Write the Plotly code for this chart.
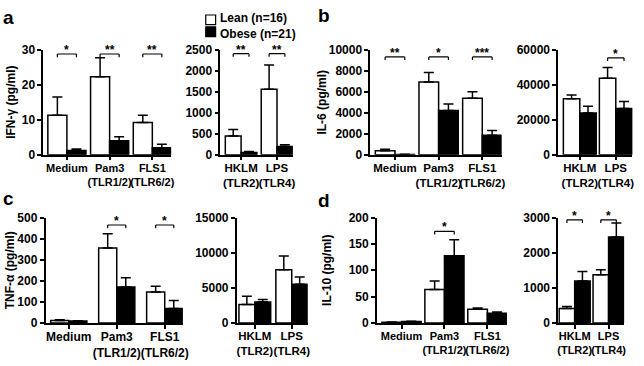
import plotly.graph_objects as go

# ---------------- data ----------------
cats_a = ["Medium", "Pam3<br>(TLR1/2)", "FLS1<br>(TLR6/2)"]
cats_b = ["HKLM<br>(TLR2)", "LPS<br>(TLR4)"]
series_names = ["Lean (n=16)", "Obese (n=21)"]
y_titles = ["IFN-γ (pg/ml)", "IL-6 (pg/ml)", "TNF-α (pg/ml)", "IL-10 (pg/ml)"]
panel_letters = ["a", "b", "c", "d"]

# IFN-gamma
ifng_l_lean = [11.3, 22.3, 9.2]
ifng_l_lean_sem = [5.2, 5.4, 2.1]
ifng_l_obese = [1.2, 4.0, 2.0]
ifng_l_obese_sem = [0.4, 1.1, 1.0]
ifng_r_lean = [443, 1561]
ifng_r_lean_sem = [155, 574]
ifng_r_obese = [50, 194]
ifng_r_obese_sem = [25, 39]
# IL-6
il6_l_lean = [369, 6923, 5385]
il6_l_lean_sem = [154, 923, 615]
il6_l_obese = [20, 4215, 1846]
il6_l_obese_sem = [10, 615, 462]
il6_r_lean = [31950, 43760]
il6_r_lean_sem = [2210, 6090]
il6_r_obese = [23820, 26400]
il6_r_obese_sem = [3880, 4070]
# TNF-alpha
tnf_l_lean = [12, 356, 147]
tnf_l_lean_sem = [3, 68, 27]
tnf_l_obese = [9, 171, 68]
tnf_l_obese_sem = [1, 43, 38]
tnf_r_lean = [2615, 7569]
tnf_r_lean_sem = [1192, 1972]
tnf_r_obese = [2982, 5505]
tnf_r_obese_sem = [367, 1055]
# IL-10
il10_l_lean = [1.2, 63.4, 25.8]
il10_l_lean_sem = [0.5, 16, 2.5]
il10_l_obese = [2.5, 127.4, 18.5]
il10_l_obese_sem = [0.6, 30.8, 2.4]
il10_r_lean = [413, 1376]
il10_r_lean_sem = [55, 138]
il10_r_obese = [1193, 2450]
il10_r_obese_sem = [275, 394]

# significance brackets: category index, bracket level, label
ifng_l_sig = ([0, 1, 2], [28.8, 28.8, 28.8], ["*", "**", "**"])
ifng_r_sig = ([0, 1], [2407, 2407], ["**", "**"])
il6_l_sig = ([0, 1, 2], [9323, 9323, 9323], ["**", "*", "***"])
il6_r_sig = ([1], [55400], ["*"])
tnf_l_sig = ([1, 2], [465, 465], ["*", "*"])
tnf_r_sig = ([], [], [])
il10_l_sig = ([1], [174], ["*"])
il10_r_sig = ([0, 1], [2936, 2936], ["*", "*"])

# y axis ticks
ifng_l_ticks = [0, 10, 20, 30]
ifng_r_ticks = [0, 500, 1000, 1500, 2000, 2500]
il6_l_ticks = [0, 2000, 4000, 6000, 8000, 10000]
il6_r_ticks = [0, 20000, 40000, 60000]
tnf_l_ticks = [0, 100, 200, 300, 400, 500]
tnf_r_ticks = [0, 5000, 10000, 15000]
il10_l_ticks = [0, 50, 100, 150, 200]
il10_r_ticks = [0, 1000, 2000, 3000]

# ---------------- layout constants ----------------
W, H = 644, 366
FONT = "Liberation Sans, Arial, sans-serif"

def dom_x(a, b):
    return [a / W, b / W]

def dom_y(top, bottom):
    return [1 - bottom / H, 1 - top / H]

TOP_ROW = (44.5, 153.5)
BOT_ROW = (219.0, 328.5)

panels = [
    dict(cats=cats_a, lean=ifng_l_lean, lsem=ifng_l_lean_sem, obese=ifng_l_obese, osem=ifng_l_obese_sem,
         sig=ifng_l_sig, ticks=ifng_l_ticks, xd=(42.7, 172), row=TOP_ROW, xr=(-0.554, 2.44), w=0.446,
         title=y_titles[0], standoff=4, xfs=11),
    dict(cats=cats_b, lean=ifng_r_lean, lsem=ifng_r_lean_sem, obese=ifng_r_obese, osem=ifng_r_obese_sem,
         sig=ifng_r_sig, ticks=ifng_r_ticks, xd=(221.7, 295), row=TOP_ROW, xr=(-0.58, 1.44), w=0.44,
         xfs=11.5),
    dict(cats=cats_a, lean=il6_l_lean, lsem=il6_l_lean_sem, obese=il6_l_obese, osem=il6_l_obese_sem,
         sig=il6_l_sig, ticks=il6_l_ticks, xd=(373.3, 506), row=TOP_ROW, xr=(-0.566, 2.44), w=0.45,
         title=y_titles[1], standoff=0, xfs=11.5),
    dict(cats=cats_b, lean=il6_r_lean, lsem=il6_r_lean_sem, obese=il6_r_obese, osem=il6_r_obese_sem,
         sig=il6_r_sig, ticks=il6_r_ticks, xd=(563.3, 638.3), row=TOP_ROW, xr=(-0.6, 1.46), w=0.456,
         xfs=11.5),
    dict(cats=cats_a, lean=tnf_l_lean, lsem=tnf_l_lean_sem, obese=tnf_l_obese, osem=tnf_l_obese_sem,
         sig=tnf_l_sig, ticks=tnf_l_ticks, xd=(45, 183.8), row=BOT_ROW, xr=(-0.485, 2.377), w=0.377,
         title=y_titles[2], standoff=0, xfs=12),
    dict(cats=cats_b, lean=tnf_r_lean, lsem=tnf_r_lean_sem, obese=tnf_r_obese, osem=tnf_r_obese_sem,
         sig=tnf_r_sig, ticks=tnf_r_ticks, xd=(238.3, 310), row=BOT_ROW, xr=(-0.49, 1.43), w=0.43,
         xfs=11.5),
    dict(cats=cats_a, lean=il10_l_lean, lsem=il10_l_lean_sem, obese=il10_l_obese, osem=il10_l_obese_sem,
         sig=il10_l_sig, ticks=il10_l_ticks, xd=(380, 511.5), row=BOT_ROW, xr=(-0.574, 2.456), w=0.456,
         title=y_titles[3], standoff=14, xfs=11),
    dict(cats=cats_b, lean=il10_r_lean, lsem=il10_r_lean_sem, obese=il10_r_obese, osem=il10_r_obese_sem,
         sig=il10_r_sig, ticks=il10_r_ticks, xd=(563.3, 630), row=BOT_ROW, xr=(-0.487, 1.46), w=0.458,
         xfs=11),
]

fig = go.Figure()
shapes = []
annotations = []
axis_font = dict(family=FONT, size=12, color="black", weight="bold")
LW = 1.5

for k, p in enumerate(panels):
    sfx = "" if k == 0 else str(k + 1)
    xref, yref = "x" + sfx, "y" + sfx
    n = len(p["cats"])
    w = p["w"]
    err_common = dict(type="data", symmetric=False, arrayminus=[0] * n,
                      color="black", thickness=LW, width=5)
    fig.add_trace(go.Bar(
        x=p["cats"], y=p["lean"], name=series_names[0], showlegend=False,
        width=w, offset=-w,
        marker=dict(color="white", line=dict(color="black", width=LW)),
        error_y=dict(array=p["lsem"], **err_common),
        xaxis=xref, yaxis=yref))
    fig.add_trace(go.Bar(
        x=p["cats"], y=p["obese"], name=series_names[1], showlegend=False,
        width=w, offset=0,
        marker=dict(color="black", line=dict(color="black", width=LW)),
        error_y=dict(array=p["osem"], **err_common),
        xaxis=xref, yaxis=yref))

    ymax = p["ticks"][-1]
    xaxis = dict(domain=dom_x(*p["xd"]), anchor=yref, type="category", range=list(p["xr"]),
                 showline=True, linecolor="black", linewidth=LW, ticks="outside", ticklen=4,
                 tickwidth=LW, tickcolor="black", showgrid=False, zeroline=False,
                 ticklabelstandoff=-2,
                 tickangle=0, tickfont=dict(axis_font, size=p["xfs"]), fixedrange=True)
    yaxis = dict(domain=dom_y(*p["row"]), anchor=xref, range=[0, ymax],
                 tickvals=p["ticks"], tickformat="d",
                 showline=True, linecolor="black", linewidth=LW, ticks="outside", ticklen=4,
                 tickwidth=LW, tickcolor="black", showgrid=False, zeroline=False,
                 tickfont=axis_font, fixedrange=True)
    if "title" in p:
        yaxis["title"] = dict(text=p["title"], font=axis_font, standoff=p["standoff"])
    fig.update_layout(**{"xaxis" + sfx: xaxis, "yaxis" + sfx: yaxis})

    # significance brackets
    d = ymax * 0.03
    for i, yv, txt in zip(*p["sig"]):
        x0, x1 = i - w / 2, i + w / 2
        for (a0, b0, a1, b1) in [(x0, yv, x1, yv), (x0, yv - d, x0, yv), (x1, yv - d, x1, yv)]:
            shapes.append(dict(type="line", xref=xref, yref=yref, x0=a0, y0=b0, x1=a1, y1=b1,
                               line=dict(color="black", width=1.2)))
        annotations.append(dict(x=i, y=yv, xref=xref, yref=yref, text=txt, showarrow=False,
                                yanchor="bottom", yshift=-5,
                                font=dict(family=FONT, size=12, color="black", weight="bold")))

# panel letters
letter_pos = [(0, 24), (318, 22), (0, 212), (318, 214)]
for letter, (lx, ly) in zip(panel_letters, letter_pos):
    annotations.append(dict(x=lx / W, y=1 - ly / H, xref="paper", yref="paper", text=letter,
                            showarrow=False, xanchor="left", yanchor="bottom",
                            font=dict(family=FONT, size=19, color="black", weight="bold")))

# manual legend (swatches + labels)
legend_tops = [8.3, 20.7]
legend_fill = ["white", "black"]
for top, col in zip(legend_tops, legend_fill):
    shapes.append(dict(type="rect", xref="paper", yref="paper",
                       x0=207 / W, x1=217 / W, y0=1 - (top + 10) / H, y1=1 - top / H,
                       fillcolor=col, line=dict(color="black", width=1.2)))
annotations.append(dict(x=219 / W, y=1 - 19.5 / H, xref="paper", yref="paper",
                        text="<br>".join(series_names), align="left",
                        showarrow=False, xanchor="left", yanchor="middle",
                        font=dict(family=FONT, size=12, color="black", weight="bold")))

fig.update_layout(
    width=W, height=H, margin=dict(l=0, r=0, t=0, b=0),
    paper_bgcolor="white", plot_bgcolor="white",
    barmode="overlay", showlegend=False,
    shapes=shapes, annotations=annotations,
    font=dict(family=FONT, size=12, color="black"),
)

fig.write_html("out.html", config={"displayModeBar": False},
               post_script="document.body.style.margin='0px';")
